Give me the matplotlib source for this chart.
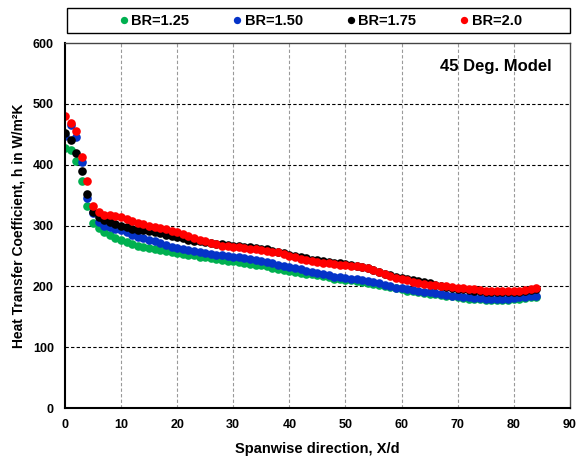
import matplotlib
matplotlib.use("Agg")
import matplotlib.pyplot as plt
from matplotlib.patches import Rectangle

plt.rcParams['font.family'] = ['Liberation Sans', 'DejaVu Sans']

x = list(range(0, 85))

br_125 = [428, 424, 407, 374, 332, 304, 296, 290, 285, 280,
          276, 273, 270, 267, 265, 263, 262, 260, 258, 257,
          255, 254, 252, 251, 249, 248, 246, 245, 244, 242,
          241, 240, 239, 237, 236, 235, 233, 231, 229, 227,
          225, 224, 222, 221, 220, 219, 217, 215, 213, 212,
          211, 210, 209, 207, 206, 204, 203, 201, 199, 197,
          195, 193, 192, 191, 189, 188, 187, 186, 185, 184,
          182, 181, 180, 179, 179, 178, 178, 178, 178, 178,
          179, 180, 181, 182, 183]

br_150 = [448, 465, 446, 405, 345, 320, 306, 300, 297, 295,
          293, 289, 285, 282, 279, 276, 274, 271, 268, 265,
          263, 261, 260, 258, 257, 255, 254, 252, 251, 250,
          249, 248, 246, 245, 244, 242, 240, 238, 236, 234,
          232, 230, 228, 226, 224, 222, 220, 218, 216, 215,
          214, 213, 212, 210, 209, 207, 205, 203, 201, 198,
          197, 195, 194, 193, 191, 190, 189, 188, 186, 185,
          184, 183, 182, 181, 181, 180, 180, 180, 180, 180,
          181, 182, 183, 184, 185]

br_175 = [452, 440, 420, 390, 352, 322, 314, 310, 306, 302,
          299, 297, 295, 293, 292, 291, 290, 288, 285, 283,
          281, 279, 277, 275, 274, 273, 272, 270, 269, 268,
          267, 266, 265, 264, 263, 262, 261, 259, 257, 255,
          252, 250, 248, 246, 244, 243, 242, 240, 239, 238,
          237, 236, 234, 232, 230, 227, 224, 221, 218, 216,
          214, 212, 211, 209, 207, 205, 203, 201, 199, 197,
          196, 195, 194, 193, 192, 191, 190, 190, 190, 190,
          190, 191, 192, 194, 196]

br_200 = [480, 468, 455, 412, 374, 332, 322, 318, 317, 315,
          314, 311, 307, 304, 302, 300, 298, 296, 294, 291,
          289, 286, 283, 280, 277, 274, 271, 269, 267, 266,
          265, 264, 263, 262, 261, 260, 258, 257, 256, 254,
          250, 248, 245, 243, 241, 240, 239, 238, 237, 236,
          235, 234, 233, 232, 230, 227, 224, 220, 217, 214,
          212, 210, 208, 206, 204, 203, 202, 201, 200, 199,
          198, 197, 196, 195, 194, 193, 193, 192, 192, 192,
          192, 193, 194, 196, 198]

series = [("BR=1.25", br_125, "#00B050"),
          ("BR=1.50", br_150, "#0533C8"),
          ("BR=1.75", br_175, "#000000"),
          ("BR=2.0", br_200, "#FF0000")]

fig = plt.figure(figsize=(5.85, 4.59), dpi=100)
ax = fig.add_axes([0.111, 0.111, 0.863, 0.795])

for label, vals, col in series:
    ax.plot(x, vals, linestyle='none', marker='o', markersize=6.2,
            color=col, markeredgewidth=0, label=label)

ax.set_xlim(0, 90)
ax.set_ylim(0, 600)
ax.set_xticks(range(0, 91, 10))
ax.set_yticks(range(0, 601, 100))
for xv in range(10, 90, 10):
    ax.axvline(xv, color='#999999', linestyle=(0, (3, 2)), linewidth=0.8, zorder=0)
for yv in range(100, 600, 100):
    ax.axhline(yv, color='black', linestyle=(0, (3, 2)), linewidth=0.8, zorder=0)

ax.tick_params(length=0, pad=8, labelsize=9)
for lab in ax.get_xticklabels() + ax.get_yticklabels():
    lab.set_fontweight('bold')

for s in ['left', 'bottom']:
    ax.spines[s].set_linewidth(1.5)
for s in ['top', 'right']:
    ax.spines[s].set_linewidth(1.0)
    ax.spines[s].set_color('#444444')

ax.set_xlabel("Spanwise direction, X/d", fontsize=10.5, fontweight='bold', labelpad=8)
ax.set_ylabel("Heat Transfer Coefficient, h in W/m\u00b2K", fontsize=10,
              fontweight='bold', labelpad=5)

ax.text(0.965, 0.935, "45 Deg. Model", transform=ax.transAxes, ha='right',
        va='center', fontsize=12, fontweight='bold')

fig.patches.append(Rectangle((0.1145, 0.928), 0.8595, 0.0545, transform=fig.transFigure,
                             fill=False, edgecolor='black', linewidth=1.0))

leg = fig.legend(loc='center', bbox_to_anchor=(0.547, 0.955), ncol=4,
                 frameon=False, handletextpad=0.1, handlelength=0.8,
                 columnspacing=2.9, borderaxespad=0,
                 prop={'weight': 'bold', 'size': 10.5}, markerscale=0.85)

fig.savefig("out.png", dpi=100)
